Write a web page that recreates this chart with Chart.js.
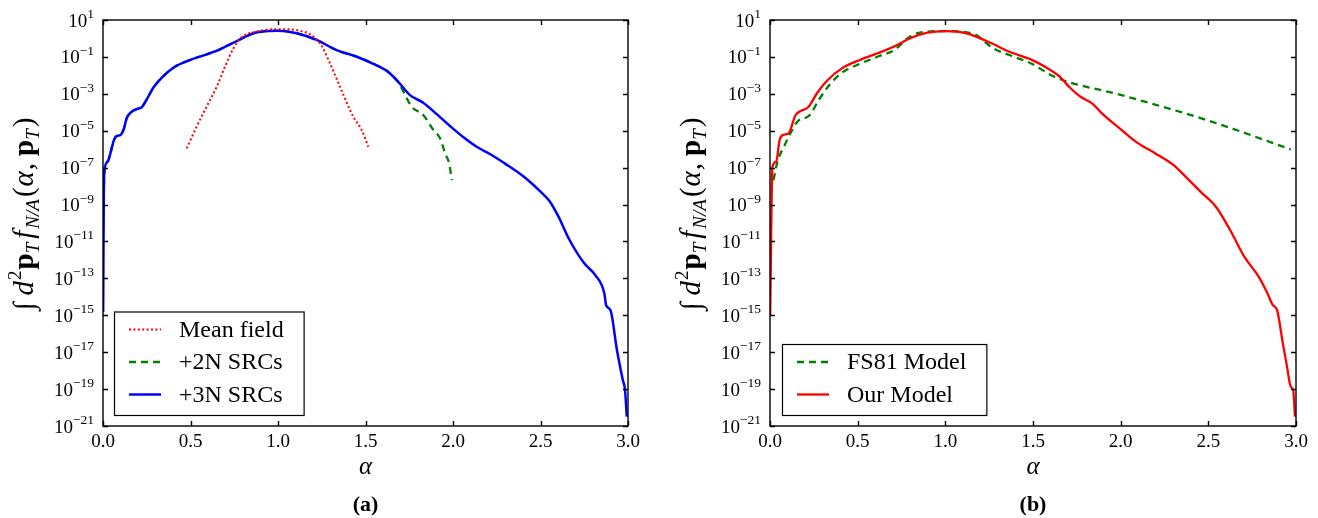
<!DOCTYPE html>
<html>
<head>
<meta charset="utf-8">
<script src="https://cdn.jsdelivr.net/npm/chart.js@4.4.1/dist/chart.umd.min.js"></script>
<style>
  html, body { margin: 0; padding: 0; background: #fff; }
  #wrap { position: relative; width: 1318px; height: 518px; }
  canvas { position: absolute; top: 0; }
  #left { left: 0; }
  #right { left: 659px; }
</style>
</head>
<body>
<div id="wrap">
  <canvas id="left" width="659" height="518"></canvas>
  <canvas id="right" width="659" height="518"></canvas>
</div>
<script>
// ---- values ----
const xTicks = [0.0, 0.5, 1.0, 1.5, 2.0, 2.5, 3.0];
const yTickExps = [1, -1, -3, -5, -7, -9, -11, -13, -15, -17, -19, -21];

// (a) mean field
const alphaMF = [0.478, 0.535, 0.592, 0.65, 0.697, 0.745, 0.792, 0.878, 1.0, 1.126, 1.24, 1.297, 1.354, 1.43, 1.478, 1.516];
const meanField = [1.1e-6, 1.66e-5, 2e-4, 2.45e-3, 2.95e-2, 0.29, 1.15, 2.35, 3.2, 2.6, 0.55, 4.5e-2, 2.45e-3, 5.8e-5, 1.1e-5, 1.35e-6];

// (a) +3N SRCs
const alpha3N = [0.001, 0.005, 0.011, 0.03, 0.042, 0.063, 0.078, 0.1, 0.12, 0.135, 0.164, 0.193, 0.221, 0.25, 0.288, 0.335, 0.402, 0.497, 0.593, 0.668, 0.764, 0.86, 0.935, 1.0, 1.107, 1.22, 1.335, 1.45, 1.545, 1.621, 1.678, 1.754, 1.83, 1.907, 1.983, 2.06, 2.135, 2.211, 2.3, 2.4, 2.5, 2.55, 2.6, 2.666, 2.75, 2.813, 2.865, 2.875, 2.9, 2.937, 2.97, 2.983, 2.993];
const src3N = [1.5e-15, 1e-8, 1.1e-7, 2.4e-7, 5.9e-7, 3.2e-6, 5.1e-6, 5.9e-6, 1.35e-5, 4.7e-5, 1.07e-4, 1.5e-4, 1.86e-4, 5e-4, 2.2e-3, 7.4e-3, 2.6e-2, 6.8e-2, 0.138, 0.257, 0.72, 1.9, 2.5, 2.6, 1.9, 0.83, 0.234, 0.102, 0.042, 0.0178, 5.6e-3, 8.5e-4, 3.3e-4, 7.9e-5, 1.8e-5, 4.4e-6, 1.35e-6, 5.5e-7, 1.6e-7, 3.5e-8, 5e-9, 1.6e-9, 2.5e-10, 1.2e-11, 6.5e-13, 1.5e-13, 1.5e-14, 3.5e-15, 1.9e-15, 1.26e-17, 3.2e-19, 9e-20, 3.2e-21];

// (a) +2N SRCs
const alpha2N = [0.005, 0.011, 0.03, 0.042, 0.063, 0.078, 0.1, 0.12, 0.135, 0.164, 0.193, 0.221, 0.25, 0.288, 0.335, 0.402, 0.497, 0.593, 0.668, 0.764, 0.86, 0.935, 1.0, 1.107, 1.22, 1.335, 1.45, 1.545, 1.621, 1.678, 1.697, 1.764, 1.83, 1.888, 1.926, 1.955, 1.98, 1.993];
const src2N = [1e-8, 1.1e-7, 2.4e-7, 5.9e-7, 3.2e-6, 5.1e-6, 5.9e-6, 1.35e-5, 4.7e-5, 1.07e-4, 1.5e-4, 1.86e-4, 5e-4, 2.2e-3, 7.4e-3, 2.6e-2, 6.8e-2, 0.138, 0.257, 0.72, 1.9, 2.5, 2.6, 1.9, 0.83, 0.234, 0.102, 0.042, 0.0178, 5.6e-3, 3e-3, 2e-4, 7.1e-5, 1.1e-5, 3.9e-6, 6e-7, 1.4e-7, 2.1e-8];

// (b) FS81 model
const alphaFS81 = [0.02, 0.045, 0.075, 0.116, 0.156, 0.227, 0.278, 0.339, 0.41, 0.512, 0.613, 0.715, 0.776, 0.837, 1.0, 1.162, 1.273, 1.365, 1.487, 1.629, 2.005, 2.502, 2.97];
const fs81 = [2.1e-8, 2.6e-7, 1.1e-6, 7.2e-6, 3.1e-5, 7.1e-5, 4.6e-4, 3e-3, 0.0138, 0.042, 0.102, 0.257, 0.89, 1.9, 2.5, 1.74, 0.29, 0.126, 0.045, 7.8e-3, 8.5e-4, 3.5e-5, 9.8e-7];

// (b) our model
const alphaOur = [0.001, 0.014, 0.035, 0.055, 0.075, 0.106, 0.146, 0.177, 0.217, 0.268, 0.329, 0.41, 0.512, 0.613, 0.705, 0.796, 0.898, 1.0, 1.121, 1.263, 1.365, 1.487, 1.568, 1.649, 1.71, 1.771, 1.842, 1.893, 1.994, 2.096, 2.198, 2.3, 2.38, 2.461, 2.543, 2.624, 2.705, 2.787, 2.837, 2.868, 2.892, 2.925, 2.949, 2.97, 2.984, 2.994];
const ourModel = [1e-15, 1.1e-7, 2.1e-7, 3.2e-6, 5.9e-6, 7.2e-6, 7.1e-5, 1.2e-4, 1.86e-4, 1.07e-3, 5.6e-3, 0.024, 0.068, 0.158, 0.355, 1.0, 2.04, 2.5, 1.9, 0.55, 0.19, 0.074, 0.0295, 9.1e-3, 2.2e-3, 6.9e-4, 2.8e-4, 8.7e-5, 1.35e-5, 2.2e-6, 5.9e-7, 1.4e-7, 2.6e-8, 4.4e-9, 7.6e-10, 4.2e-11, 1.5e-12, 1.23e-13, 1.55e-14, 3.5e-15, 1.9e-15, 3e-17, 1.6e-18, 1.35e-19, 9e-20, 3.2e-21];

const SERIF = '"Liberation Serif", "DejaVu Serif", serif';

function pts(xs, ys) {
  return xs.map((x, i) => ({ x: x, y: ys[i] }));
}

// draw a run of differently styled text pieces starting at x
function richText(ctx, parts, x, y) {
  let cx = x;
  parts.forEach(p => {
    ctx.font = (p.f || '') + p.s + 'px ' + SERIF;
    ctx.fillText(p.t, cx, y + (p.dy || 0));
    cx += ctx.measureText(p.t).width + (p.gap || 0);
  });
  return cx - x;
}
function richWidth(ctx, parts) {
  let w = 0;
  parts.forEach(p => {
    ctx.font = (p.f || '') + p.s + 'px ' + SERIF;
    w += ctx.measureText(p.t).width + (p.gap || 0);
  });
  return w;
}

const yLabelParts = [
  { t: '\u222B', s: 29, gap: 7 },
  { t: 'd', f: 'italic ', s: 29, gap: 1 },
  { t: '2', s: 19, dy: -12, gap: 1 },
  { t: 'p', f: 'bold ', s: 29 },
  { t: 'T', f: 'italic ', s: 19, dy: 6, gap: 4 },
  { t: 'f', f: 'italic ', s: 29, gap: 2 },
  { t: 'N/A', f: 'italic ', s: 19, dy: 6, gap: 2 },
  { t: '(', s: 29, gap: 1 },
  { t: '\u03B1', f: 'italic ', s: 29, gap: 1 },
  { t: ',', s: 29, gap: 7 },
  { t: 'p', f: 'bold ', s: 29 },
  { t: 'T', f: 'italic ', s: 19, dy: 6, gap: 2 },
  { t: ')', s: 29 }
];

const axesPlugin = {
  id: 'axesDecor',
  afterDatasetsDraw(chart, args, opts) {
    const ctx = chart.ctx;
    const a = chart.chartArea;
    const xs = chart.scales.x, ys = chart.scales.y;
    ctx.save();
    ctx.strokeStyle = '#000';
    ctx.fillStyle = '#000';
    ctx.lineWidth = 1.4;
    ctx.setLineDash([]);
    ctx.strokeRect(a.left, a.top, a.right - a.left, a.bottom - a.top);

    // inward ticks on all four sides
    ctx.beginPath();
    xTicks.forEach(v => {
      const px = Math.round(xs.getPixelForValue(v)) + 0.5;
      ctx.moveTo(px, a.bottom); ctx.lineTo(px, a.bottom - 5);
      ctx.moveTo(px, a.top); ctx.lineTo(px, a.top + 5);
    });
    yTickExps.forEach(e => {
      const py = Math.round(ys.getPixelForValue(Math.pow(10, e))) + 0.5;
      ctx.moveTo(a.left, py); ctx.lineTo(a.left + 5, py);
      ctx.moveTo(a.right, py); ctx.lineTo(a.right - 5, py);
    });
    ctx.stroke();

    // x tick labels
    ctx.font = '19px ' + SERIF;
    ctx.textAlign = 'center';
    ctx.textBaseline = 'middle';
    xTicks.forEach(v => ctx.fillText(v.toFixed(1), xs.getPixelForValue(v), a.bottom + 16));

    // y tick labels 10^n
    ctx.textAlign = 'left';
    ctx.textBaseline = 'alphabetic';
    yTickExps.forEach(e => {
      const py = ys.getPixelForValue(Math.pow(10, e));
      const exp = e < 0 ? '\u2212' + (-e) : String(e);
      ctx.font = '13.5px ' + SERIF;
      const we = ctx.measureText(exp).width;
      ctx.font = '19px ' + SERIF;
      const wb = ctx.measureText('10').width;
      const right = a.left - 9;
      ctx.fillText('10', right - we - wb, py + 6.5);
      ctx.font = '13.5px ' + SERIF;
      ctx.fillText(exp, right - we, py - 2);
    });

    // x axis title and panel label
    const cx = (a.left + a.right) / 2;
    ctx.textAlign = 'center';
    ctx.textBaseline = 'middle';
    ctx.font = 'italic 25px ' + SERIF;
    ctx.fillText('\u03B1', cx, a.bottom + 41);
    ctx.font = 'bold 22px ' + SERIF;
    ctx.fillText(opts.panel, cx, a.bottom + 79);

    // y axis title, rotated
    ctx.save();
    ctx.translate(a.left - opts.yTitleOffset, (a.top + a.bottom) / 2 - 9);
    ctx.rotate(-Math.PI / 2);
    ctx.textAlign = 'left';
    ctx.textBaseline = 'alphabetic';
    const w = richWidth(ctx, yLabelParts);
    richText(ctx, yLabelParts, -w / 2, 8);
    ctx.restore();

    // legend box inside the axes, lower left
    const sets = chart.data.datasets;
    ctx.font = '24px ' + SERIF;
    let tw = 0;
    sets.forEach(d => { tw = Math.max(tw, ctx.measureText(d.label).width); });
    const bw = 65 + tw + 20;
    const rowH = 32.5;
    const bh = sets.length * rowH + 6;
    const bx = a.left + opts.legendInset;
    const by = a.bottom - 11 - bh;
    ctx.fillStyle = '#fff';
    ctx.fillRect(bx, by, bw, bh);
    ctx.strokeStyle = '#000';
    ctx.lineWidth = 1.2;
    ctx.strokeRect(bx + 0.5, by + 0.5, bw, bh);
    sets.forEach((d, i) => {
      const ry = by + 18 + i * rowH;
      ctx.strokeStyle = d.borderColor;
      ctx.lineWidth = d.borderWidth;
      ctx.setLineDash(d.borderDash || []);
      ctx.beginPath();
      ctx.moveTo(bx + 15, ry);
      ctx.lineTo(bx + 47, ry);
      ctx.stroke();
      ctx.setLineDash([]);
      ctx.fillStyle = '#000';
      ctx.textAlign = 'left';
      ctx.textBaseline = 'middle';
      ctx.fillText(d.label, bx + 65, ry + 1);
    });
    ctx.restore();
  }
};

function baseOptions(pad, panel, legendInset, yTitleOffset) {
  return {
    responsive: false,
    animation: false,
    devicePixelRatio: 1,
    layout: { padding: pad },
    elements: { point: { radius: 0 }, line: { cubicInterpolationMode: 'monotone' } },
    plugins: {
      legend: { display: false },
      tooltip: { enabled: false },
      axesDecor: { panel: panel, legendInset: legendInset, yTitleOffset: yTitleOffset }
    },
    scales: {
      x: { type: 'linear', min: 0, max: 3, display: false },
      y: { type: 'logarithmic', min: 1e-21, max: 10, display: false }
    }
  };
}

new Chart(document.getElementById('left').getContext('2d'), {
  type: 'line',
  data: {
    datasets: [
      { label: 'Mean field', data: pts(alphaMF, meanField), borderColor: '#ff0000', borderWidth: 2, borderDash: [2, 2.4], order: 0 },
      { label: '+2N SRCs', data: pts(alpha2N, src2N), borderColor: '#008000', borderWidth: 2.3, borderDash: [7, 5], order: 2 },
      { label: '+3N SRCs', data: pts(alpha3N, src3N), borderColor: '#0000ff', borderWidth: 2.5, order: 1 }
    ]
  },
  options: baseOptions({ left: 103, right: 31, top: 20, bottom: 92 }, '(a)', 11, 78),
  plugins: [axesPlugin]
});

new Chart(document.getElementById('right').getContext('2d'), {
  type: 'line',
  data: {
    datasets: [
      { label: 'FS81 Model', data: pts(alphaFS81, fs81), borderColor: '#008000', borderWidth: 2.3, borderDash: [7, 5], order: 1 },
      { label: 'Our Model', data: pts(alphaOur, ourModel), borderColor: '#ff0000', borderWidth: 2.3, order: 0 }
    ]
  },
  options: baseOptions({ left: 111, right: 22, top: 20, bottom: 92 }, '(b)', 12, 78),
  plugins: [axesPlugin]
});
</script>
</body>
</html>
